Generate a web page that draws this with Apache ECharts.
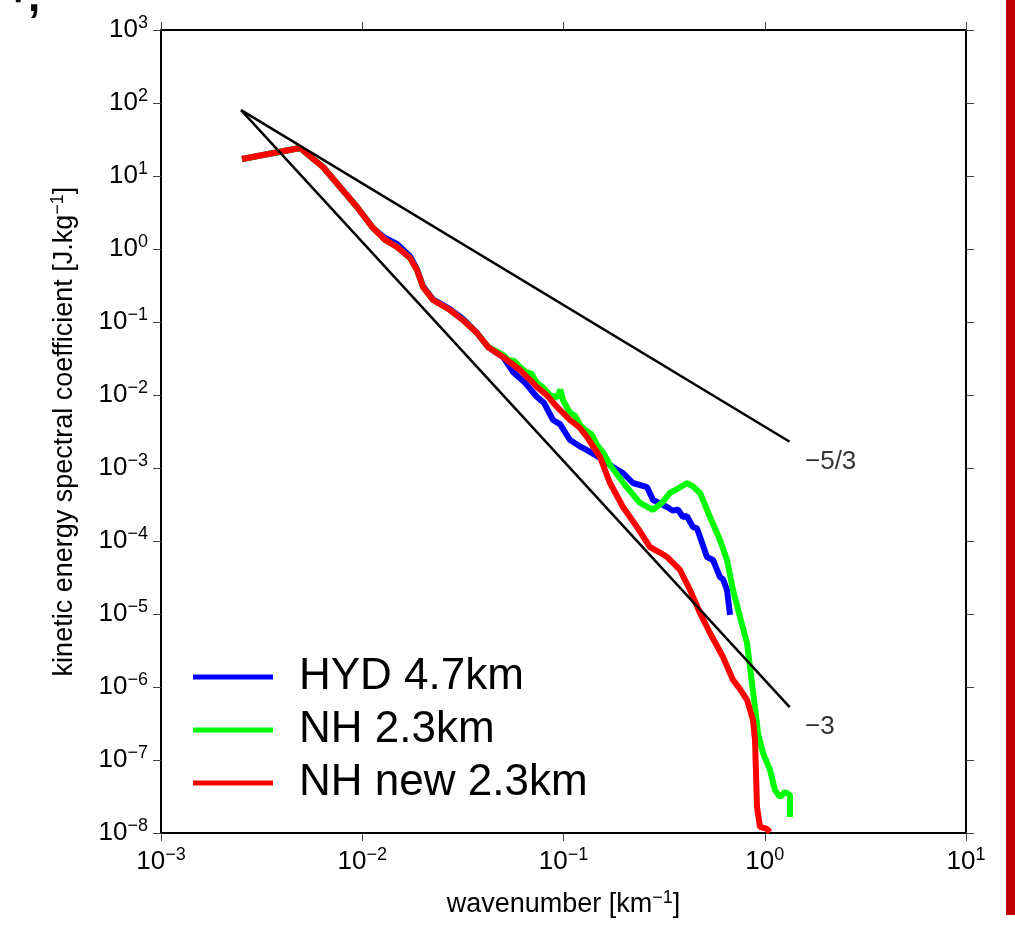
<!DOCTYPE html>
<html><head><meta charset="utf-8">
<script src="https://cdn.jsdelivr.net/npm/echarts@6/dist/echarts.min.js"></script>
<style>html,body{margin:0;padding:0;background:#fff}#c{width:1015px;height:934px}</style>
</head><body><div id="c"></div>
<script>
// ---- data ----
const xTicks = [0.001, 0.01, 0.1, 1, 10];
const yTicks = [1e-8,1e-7,1e-6,1e-5,1e-4,1e-3,1e-2,1e-1,1,10,100,1000];

const hydK = [0.002527,0.004905,0.006383,0.007753,0.009417,0.01131,0.01297,0.01488,0.01727,0.01871,0.02004,0.02246,0.02729,0.03167,0.03717,0.04214,0.05005,
  0.05612,0.0640,0.07385,0.0800,0.08867,0.0960,0.1077,0.1200,0.1309,0.1518,0.1762,0.1975,0.2214,0.2600,0.2785,0.3000,0.3268,0.3500,0.3700,0.3925,0.4100,0.4401,0.4600,0.4770,0.5164,0.5533,0.5700,0.5993,0.6200,0.6494,0.6721];
const hydE = [17.1,24.2,13.3,7.07,3.76,1.94,1.415,1.171,0.80,0.53,0.31,0.205,0.150,0.110,0.0707,0.0455,0.0332,
  0.0207,0.0150,0.00939,0.0078,0.00455,0.0040,0.00242,0.00200,0.00176,0.00137,0.00103,0.000854,0.000623,0.000549,0.000364,0.000330,0.000292,0.000260,0.000270,0.000213,0.000220,0.0001555,0.000150,0.0001134,0.0000604,0.0000549,0.0000450,0.0000321,0.0000300,0.0000213,0.0000097];

const nhK = [0.002527,0.004905,0.006383,0.007753,0.009417,0.01131,0.01297,0.01488,0.01727,0.01871,0.02004,0.02246,0.02729,0.03167,0.03717,0.04214,0.05005,
  0.0534,0.0570,0.06081,0.0650,0.0690,0.07385,0.0790,0.08567,0.0930,0.0965,0.09943,0.1077,0.1140,0.1208,0.1300,0.1380,0.1467,0.1580,0.1702,0.2021,0.2399,0.2785,0.3086,0.3382,0.3700,0.4109,0.4400,0.4770,0.5346,0.5993,0.6494,0.6956,0.7534,0.8162,0.8447,0.8642,0.8945,0.9258,0.9802,1.062,1.124,1.191,1.261,1.335,1.335];
const nhE = [17.1,24.2,13.3,7.07,3.76,1.94,1.33,1.065,0.753,0.516,0.302,0.200,0.146,0.1065,0.0707,0.0455,0.0353,
  0.0300,0.0292,0.0242,0.0205,0.0198,0.0146,0.0128,0.0100,0.0092,0.0118,0.00854,0.00567,0.00520,0.00388,0.00320,0.00290,0.00207,0.00160,0.00110,0.000585,0.000332,0.000266,0.000332,0.000455,0.000520,0.000623,0.000560,0.000455,0.000213,0.000103,0.0000549,0.0000213,0.0000091,0.0000040,1.88e-6,1.13e-6,5.32e-7,2.34e-7,1.25e-7,7.30e-8,3.88e-8,3.11e-8,3.65e-8,3.32e-8,1.66e-8];

const nhNewK = [0.002527,0.004905,0.006383,0.007753,0.009417,0.01131,0.01297,0.01488,0.01727,0.01871,0.02004,0.02246,0.02729,0.03167,0.03717,0.04214,0.05005,
  0.06081,0.07385,0.0830,0.09283,0.1077,0.1200,0.1309,0.1518,0.1702,0.1975,0.2318,0.2691,0.3000,0.3268,0.3793,0.4253,0.4770,0.5346,0.6202,0.6956,0.7500,0.8162,0.8742,0.8945,0.9048,0.9152,0.9471,1.026,1.062];
const nhNewE = [17.1,24.2,13.3,7.07,3.76,1.94,1.33,1.065,0.753,0.516,0.302,0.200,0.146,0.1065,0.0707,0.0455,0.0332,
  0.0220,0.01287,0.0098,0.00685,0.004545,0.00360,0.002659,0.001415,0.000623,0.000292,0.0001555,0.0000827,0.0000700,0.0000604,0.0000401,0.0000213,0.0000103,0.00000549,0.00000258,0.00000125,0.00000095,6.64e-7,3.53e-7,1.88e-7,6.64e-8,2.27e-8,1.21e-8,1.135e-8,1.03e-8];

const slope53K = [0.0025, 1.33];
const slope53E = [80, 2.29e-3];
const slope3K = [0.0025, 1.33];
const slope3E = [80, 5.3e-7];

const seriesNames = ['HYD 4.7km', 'NH 2.3km', 'NH new 2.3km'];
const slopeLabels = ['\u22125/3', '\u22123'];
const slopeLabelPos = [[1.585, 1.21e-3], [1.585, 2.83e-7]];

// ---- chart ----
function pairs(xs, ys){ return xs.map((x,i)=>[x, ys[i]]); }
const FONT = 'Liberation Sans';
function powLabel(v){
  const e = Math.round(Math.log10(v));
  const s = e < 0 ? '\u2212' + (-e) : String(e);
  return '{b|10}{s|' + s + '}';
}
const richTick = {
  b: {fontSize: 26, fontFamily: FONT, color: '#000'},
  s: {fontSize: 18, fontFamily: FONT, color: '#000', padding: [0,0,14,0]}
};
const tickStyle = {show: true, inside: false, length: 8, lineStyle: {color: '#444', width: 1}};
const lineStyleAxis = {show: true, onZero: false, lineStyle: {color: '#000', width: 2}};

function xAx(pos, labels){
  return {
    type: 'log', logBase: 10, min: xTicks[0], max: xTicks[xTicks.length-1], interval: 1,
    position: pos, gridIndex: 0,
    axisLine: lineStyleAxis, axisTick: tickStyle, minorTick: {show: false},
    splitLine: {show: false}, minorSplitLine: {show: false},
    axisLabel: labels ? {show: true, formatter: powLabel, rich: richTick, margin: 13, interval: 0, showMinLabel: true, showMaxLabel: true} : {show: false},
    name: labels ? 'wavenumber [km{s|\u22121}]' : '',
    nameLocation: 'middle', nameGap: 56,
    nameTextStyle: {fontSize: 27, fontFamily: FONT, color: '#000',
      rich: {s: {fontSize: 18, fontFamily: FONT, color: '#000', padding: [0,0,14,0]}}}
  };
}
function yAx(pos, labels){
  return {
    type: 'log', logBase: 10, min: yTicks[0], max: yTicks[yTicks.length-1], interval: 1,
    position: pos, gridIndex: 0,
    axisLine: lineStyleAxis, axisTick: tickStyle, minorTick: {show: false},
    splitLine: {show: false}, minorSplitLine: {show: false},
    axisLabel: labels ? {show: true, formatter: powLabel, rich: richTick, margin: 13, interval: 0, showMinLabel: true, showMaxLabel: true} : {show: false},
    name: labels ? 'kinetic energy spectral coefficient [J.kg{s|\u22121}]' : '',
    nameLocation: 'middle', nameGap: 80, nameRotate: 90,
    nameTextStyle: {fontSize: 27, fontFamily: FONT, color: '#000',
      rich: {s: {fontSize: 18, fontFamily: FONT, color: '#000', padding: [0,0,14,0]}}}
  };
}

const chart = echarts.init(document.getElementById('c'), null, {renderer: 'canvas'});
chart.setOption({
  animation: false,
  backgroundColor: '#fff',
  grid: {left: 161, top: 30, width: 805, height: 803, containLabel: false},
  xAxis: [xAx('bottom', true), xAx('top', false)],
  yAxis: [yAx('left', true), yAx('right', false)],
  legend: {
    data: seriesNames, orient: 'vertical', left: 188, top: 650,
    itemWidth: 80, itemHeight: 5, itemGap: 9, icon: 'rect',
    textStyle: {fontSize: 44, fontFamily: FONT, color: '#000', lineHeight: 44, padding: [0,0,0,21]}
  },
  series: [
    {name: seriesNames[0], type: 'line', data: pairs(hydK, hydE), showSymbol: false, symbol: 'none',
      lineStyle: {color: '#0000ff', width: 6}, itemStyle: {color: '#0000ff'}, z: 2},
    {name: seriesNames[1], type: 'line', data: pairs(nhK, nhE), showSymbol: false, symbol: 'none',
      lineStyle: {color: '#00ff00', width: 6}, itemStyle: {color: '#00ff00'}, z: 3},
    {name: seriesNames[2], type: 'line', data: pairs(nhNewK, nhNewE), showSymbol: false, symbol: 'none',
      lineStyle: {color: '#ff0000', width: 6}, itemStyle: {color: '#ff0000'}, z: 4},
    {name: 'slope53', type: 'line', data: pairs(slope53K, slope53E), symbol: 'none',
      lineStyle: {color: '#000', width: 2.5}, z: 5, silent: true},
    {name: 'slope3', type: 'line', data: pairs(slope3K, slope3E), symbol: 'none',
      lineStyle: {color: '#000', width: 2.5}, z: 5, silent: true},
    {name: 'slopeText', type: 'scatter', symbolSize: 0, silent: true, z: 6,
      data: slopeLabelPos.map((p,i)=>({value: p, label: {show: true, formatter: slopeLabels[i]}})),
      label: {show: true, position: 'right', distance: 0, fontSize: 26, fontFamily: FONT, color: '#000'}}
  ],
  graphic: [
    {type: 'rect', left: 1006, top: 0, shape: {width: 9, height: 915}, style: {fill: '#c00000'}, z: 10},
    {type: 'text', left: 13, top: -12, style: {text: "'", font: 'bold 44px "Liberation Sans"', fill: '#000'}, z: 10},
    {type: 'text', left: 28, top: -23, style: {text: ',', font: 'bold 44px "Liberation Sans"', fill: '#000'}, z: 10}
  ]
});
</script>
</body></html>
